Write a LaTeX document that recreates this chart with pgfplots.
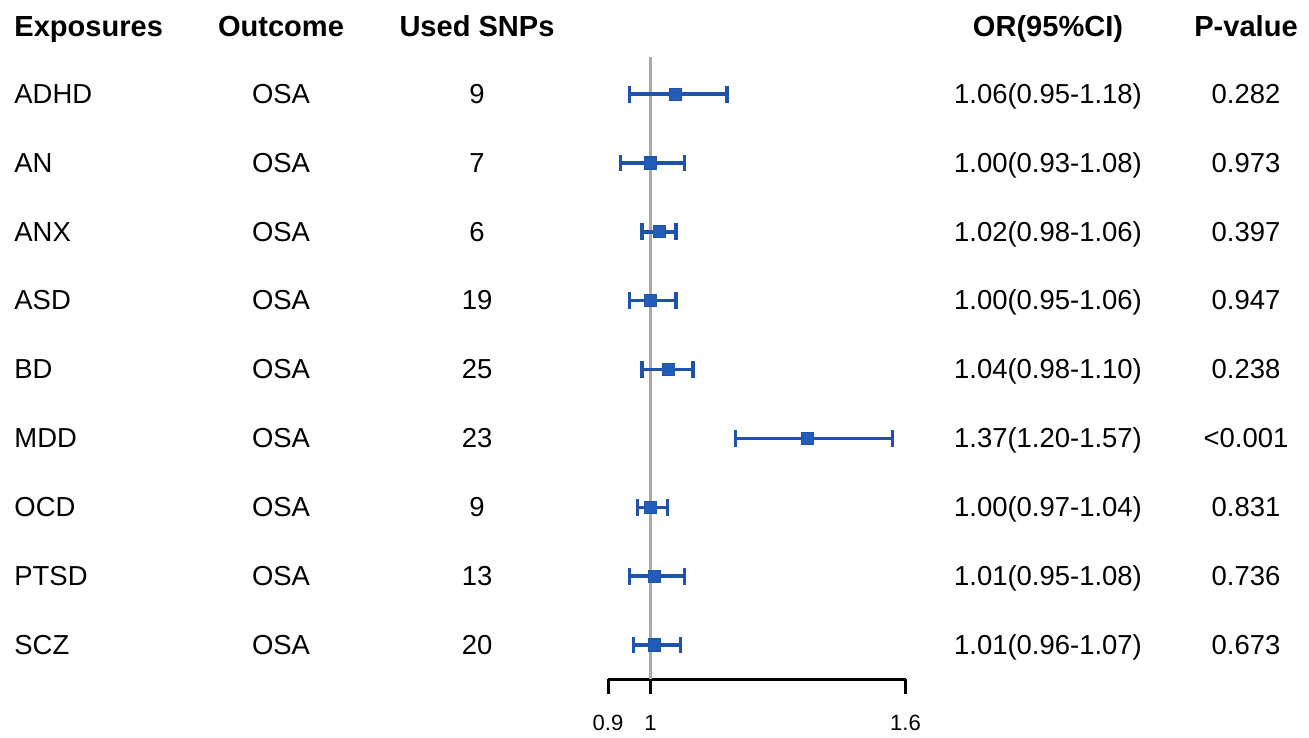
\documentclass[border=0pt]{standalone}
\usepackage{pgfplots}
\usepackage{pgfplotstable}
\pgfplotsset{compat=1.18}
\usepackage{fontspec}
\setmainfont{Liberation Sans}
\definecolor{fpblue}{RGB}{31,82,170}
\definecolor{fpsq}{RGB}{36,92,185}
\definecolor{vline}{RGB}{170,170,170}

% y = 10 - row (row 1 at top)
\pgfplotstableread{
y name outcome snps orci p or lo hi
9 ADHD OSA 9  1.06(0.95-1.18) 0.282  1.059 0.95 1.18
8 AN   OSA 7  1.00(0.93-1.08) 0.973  1.000 0.93 1.08
7 ANX  OSA 6  1.02(0.98-1.06) 0.397  1.021 0.98 1.06
6 ASD  OSA 19 1.00(0.95-1.06) 0.947  1.000 0.95 1.06
5 BD   OSA 25 1.04(0.98-1.10) 0.238  1.042 0.98 1.10
4 MDD  OSA 23 1.37(1.20-1.57) <0.001 1.370 1.20 1.57
3 OCD  OSA 9  1.00(0.97-1.04) 0.831  1.000 0.97 1.04
2 PTSD OSA 13 1.01(0.95-1.08) 0.736  1.010 0.95 1.08
1 SCZ  OSA 20 1.01(0.96-1.07) 0.673  1.010 0.96 1.07
}\data

\newcommand{\bodyfont}{\fontsize{13.7}{16}\selectfont}
\newcommand{\headfont}{\fontsize{14.5}{17}\selectfont\bfseries}

\begin{document}
\begin{tikzpicture}
\begin{axis}[
  scale only axis,
  width=148.5pt, height=310.5pt,
  xmin=0.9, xmax=1.6,
  ymin=0.505, ymax=9.538,
  clip=false,
  axis y line=none,
  axis x line*=bottom,
  x axis line style={black, line width=1.5pt},
  xtick={0.9,1,1.6},
  xticklabels={0.9,1,1.6},
  tick align=outside,
  major tick length=7.5pt,
  x tick style={black, line width=1.5pt},
  xticklabel style={font=\fontsize{11}{12}\selectfont, yshift=-7pt},
  /pgf/number format/assume math mode=true,
  textcol/.style={draw=none, mark=none, nodes near coords, point meta=explicit symbolic,
    nodes near coords style={anchor=base, font=\bodyfont, inner sep=0pt, text=black, yshift=-4.6pt}},
]
% invisible bounding box: full picture
\path (axis cs:-0.5306,10.3673) rectangle (axis cs:2.5494,-0.3236);

% reference line at 1
\addplot[vline, line width=1.1pt, forget plot] coordinates {(1,0.505) (1,9.538)};

% CIs and point estimates
\addplot[only marks, mark=square*, mark size=3pt,
  mark options={fill=fpsq, draw=fpblue, line width=0.6pt},
  error bars/.cd, x dir=both, x explicit,
  error mark=|,
  error bar style={line width=1.7pt, fpblue},
  error mark options={fpblue, line width=1.6pt, mark size=4.2pt}]
  table[x=or, y=y,
        x error plus expr=\thisrow{hi}-\thisrow{or},
        x error minus expr=\thisrow{or}-\thisrow{lo}] {\data};

% text columns
\addplot[textcol, nodes near coords style={anchor=base west}]
  table[x expr=-0.4976, y=y, meta=name] {\data};
\addplot[textcol] table[x expr=0.1306, y=y, meta=outcome] {\data};
\addplot[textcol] table[x expr=0.5918, y=y, meta=snps] {\data};
\addplot[textcol] table[x expr=1.9353, y=y, meta=orci] {\data};
\addplot[textcol] table[x expr=2.4012, y=y, meta=p] {\data};

% headers
\node[anchor=base west, font=\headfont, inner sep=0pt] at (axis cs:-0.4976,9.8436) {Exposures};
\node[anchor=base, font=\headfont, inner sep=0pt] at (axis cs:0.1306,9.8436) {Outcome};
\node[anchor=base, font=\headfont, inner sep=0pt] at (axis cs:0.5918,9.8436) {Used SNPs};
\node[anchor=base, font=\headfont, inner sep=0pt] at (axis cs:1.9353,9.8436) {OR(95\%CI)};
\node[anchor=base, font=\headfont, inner sep=0pt] at (axis cs:2.4012,9.8436) {P-value};
\end{axis}
\end{tikzpicture}
\end{document}
